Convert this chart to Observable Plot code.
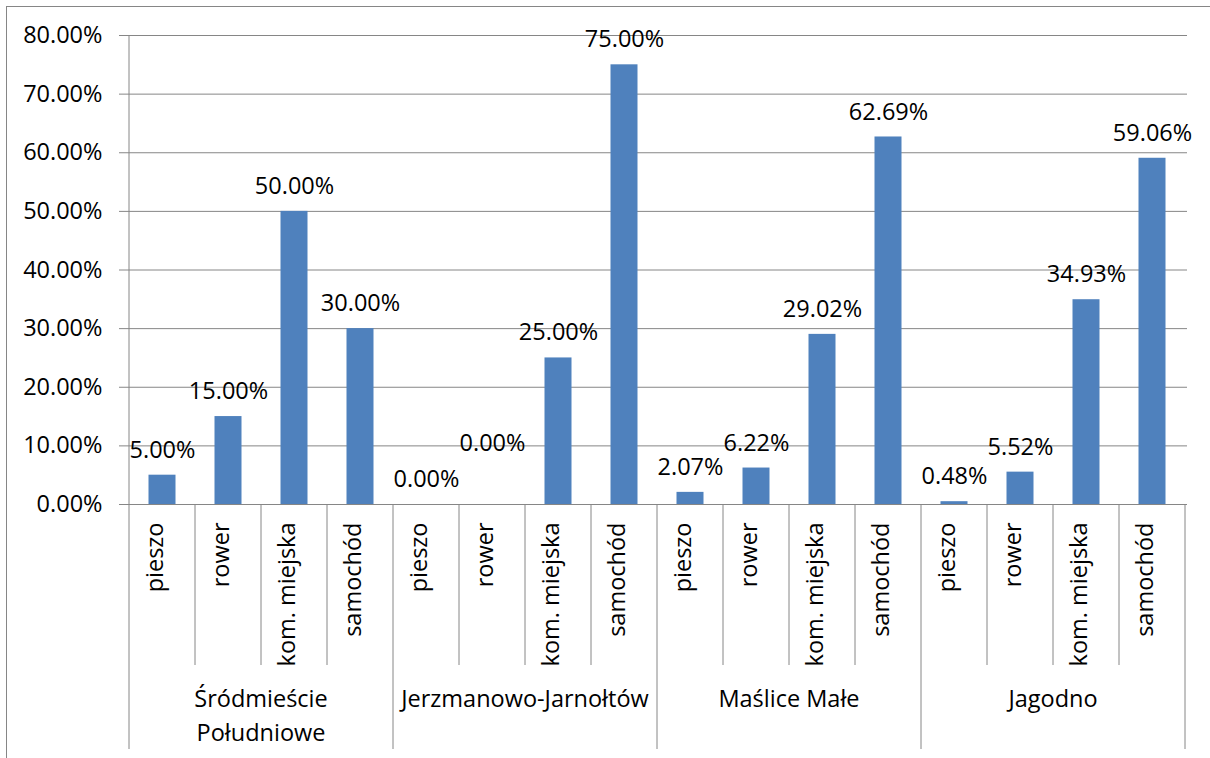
<!DOCTYPE html>
<html>
<head>
<meta charset="utf-8">
<script src="https://cdn.jsdelivr.net/npm/d3@7"></script>
<script src="https://cdn.jsdelivr.net/npm/@observablehq/plot@0.6"></script>
<style>
  body { margin: 0; background: #fff; overflow: hidden; }
  #frame { position: absolute; left: 6px; top: 6px; width: 1230px; height: 780px; border: 1px solid #868686; }
  #chart { position: absolute; left: 0; top: 0; }
</style>
</head>
<body>
<div id="frame"></div>
<div id="chart"></div>
<script>
// ---- data ----
const districts = ["Śródmieście\nPołudniowe", "Jerzmanowo-Jarnołtów", "Maślice Małe", "Jagodno"];
const modes = ["pieszo", "rower", "kom. miejska", "samochód"];
const srodmiescie = [5.00, 15.00, 50.00, 30.00];
const jerzmanowo = [0.00, 0.00, 25.00, 75.00];
const maslice = [2.07, 6.22, 29.02, 62.69];
const jagodno = [0.48, 5.52, 34.93, 59.06];
const yTicks = [0, 10, 20, 30, 40, 50, 60, 70, 80];

const seriesByDistrict = [srodmiescie, jerzmanowo, maslice, jagodno];
const data = [];
districts.forEach((d, gi) => {
  modes.forEach((m, mi) => {
    data.push({ id: String(gi * modes.length + mi), district: d, mode: m, value: seriesByDistrict[gi][mi] });
  });
});
const ids = data.map(d => d.id);

const FONT = "'Open Sans', sans-serif";
const FS = 23.5;
const GRAY = "#868686";

function axisDecor(index, scales, values, dims) {
  const x = scales.x, y = scales.y;
  const step = x(ids[1]) - x(ids[0]);
  const y0 = y(0), yTop = y(yTicks[yTicks.length - 1]);
  const g = d3.create("svg:g").attr("stroke", GRAY).attr("fill", "none");
  const x0 = x(ids[0]);
  g.append("line").attr("x1", x0).attr("x2", x0).attr("y1", yTop).attr("y2", y0);
  for (let i = 0; i <= ids.length; i++) {
    const xp = x0 + i * step;
    const isGroup = i % modes.length === 0;
    g.append("line").attr("x1", xp).attr("x2", xp)
      .attr("y1", y0).attr("y2", y0 + (isGroup ? 245 : 161));
  }
  const t = d3.create("svg:g").attr("font-family", FONT).attr("font-size", FS)
    .attr("fill", "#000").attr("text-anchor", "middle");
  districts.forEach((name, gi) => {
    const cx = x0 + (gi * modes.length + modes.length / 2) * step;
    const lines = name.split("\n");
    const txt = t.append("text").attr("x", cx).attr("y", y0 + 203);
    lines.forEach((ln, li) => {
      txt.append("tspan").attr("x", cx).attr("dy", li === 0 ? 0 : 34).text(ln);
    });
  });
  const outer = d3.create("svg:g");
  outer.append(() => g.node());
  outer.append(() => t.node());
  return outer.node();
}

const chart = Plot.plot({
  width: 1210,
  height: 758,
  marginLeft: 127,
  marginRight: 23,
  marginTop: 35,
  marginBottom: 254,
  style: { fontFamily: FONT, fontSize: FS + "px", color: "#000", background: "transparent", overflow: "visible" },
  x: { domain: ids, padding: 0, axis: null },
  y: { domain: [0, 80], axis: null },
  marks: [
    Plot.gridY(yTicks, { stroke: GRAY, strokeOpacity: 1 }),
    Plot.axisY(yTicks, {
      tickSize: 8, tickPadding: 17, stroke: GRAY, fill: "#000", fontSize: FS,
      tickFormat: d => d.toFixed(2) + "%", label: null
    }),
    Plot.barY(data, { x: "id", y: "value", fill: "#4F81BD", insetLeft: 19.5, insetRight: 19.5 }),
    Plot.text(data, { x: "id", y: "value", text: d => d.value.toFixed(2) + "%", dy: -25, fontSize: FS, fill: "#000", className: "vlabel" }),
    Plot.text(data, { x: "id", text: "mode", frameAnchor: "bottom", rotate: -90, textAnchor: "end", dy: 18, fontSize: FS, fill: "#000" }),
    axisDecor
  ]
});
document.getElementById("chart").append(chart);

// simple label collision avoidance (like the spreadsheet renderer): lift a value label
// that touches the previous one at the same height
const labels = Array.from(chart.querySelectorAll("g.vlabel text"));
let prev = null;
labels.forEach(el => {
  const b = el.getBBox();
  const m = el.getCTM();
  const box = { x1: b.x + m.e, x2: b.x + b.width + m.e, y: b.y + m.f, h: b.height };
  if (prev && Math.abs(prev.y - box.y) < 2 && box.x1 - prev.x2 < 4) {
    const tr = el.getAttribute("transform") || "";
    el.setAttribute("transform", tr + " translate(0,-36)");
    box.y -= 36;
  }
  prev = box;
});
</script>
</body>
</html>
